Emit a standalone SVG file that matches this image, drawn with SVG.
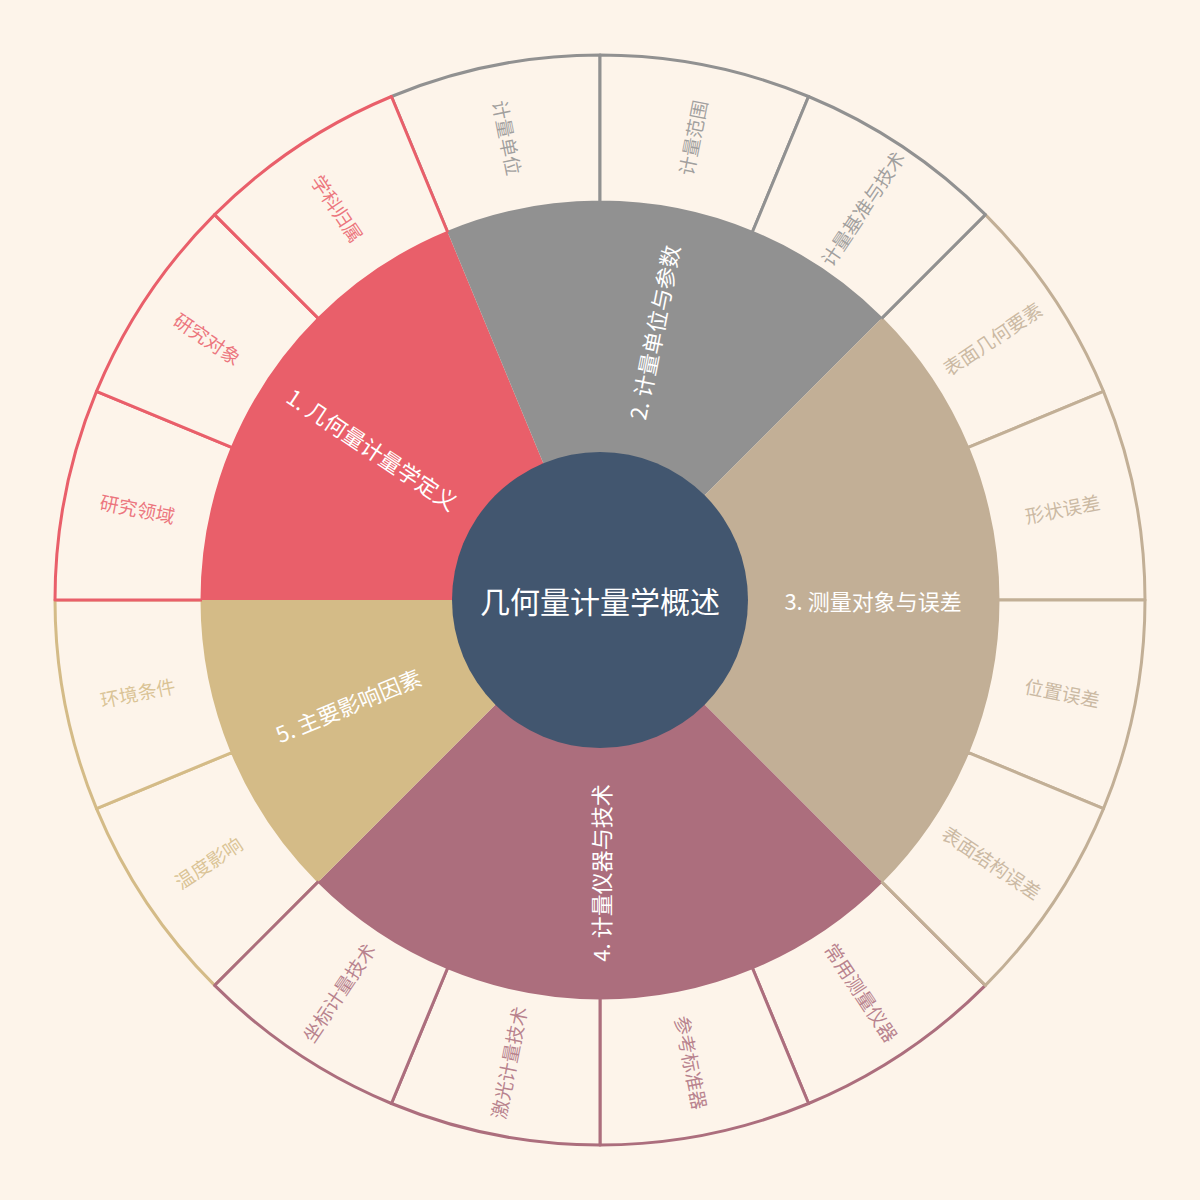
<svg xmlns="http://www.w3.org/2000/svg" width="1200" height="1200" viewBox="0 0 1200 1200">
<style>
text{font-family:"Noto Sans CJK SC","Noto Sans",sans-serif;text-anchor:middle;dominant-baseline:central}
.leaf{fill:#FDF4EA;stroke-width:3;stroke-linejoin:round}
.c1{stroke:#E95F6A}.c2{stroke:#919191}.c3{stroke:#C2AF96}.c4{stroke:#AC6E7D}.c5{stroke:#D4BB87}
.t1{fill:#E95F6A}.t2{fill:#919191}.t3{fill:#C2AF96}.t4{fill:#AC6E7D}.t5{fill:#D4BB87}
.lt{font-size:19px;fill-opacity:0.85}
.mt{font-size:22px;fill:#FFFFFF}
</style>
<rect width="1200" height="1200" fill="#FDF4EA"/>
<g id="leaves">
<g id="cat5-leaves">
<g id="leaf-wendu"><path class="leaf c5" d="M214.63,985.37 A545,545 0 0 1 96.49,808.56 L232.30,752.31 A398,398 0 0 0 318.57,881.43 Z"/><text class="lt t5" transform="translate(207.96,861.95) rotate(-33.75)">温度影响</text></g>
<g id="leaf-huanjing"><path class="leaf c5" d="M96.49,808.56 A545,545 0 0 1 55,600 L202,600 A398,398 0 0 0 232.30,752.31 Z"/><text class="lt t5" transform="translate(137.56,691.98) rotate(-11.25)">环境条件</text></g>
</g>
<g id="cat4-leaves">
<g id="leaf-changyong"><path class="leaf c4" d="M985.37,985.37 A545,545 0 0 1 808.56,1103.51 L752.31,967.70 A398,398 0 0 0 881.43,881.43 Z"/><text class="lt t4" transform="translate(861.95,992.04) rotate(56.25)">常用测量仪器</text></g>
<g id="leaf-cankao"><path class="leaf c4" d="M808.56,1103.51 A545,545 0 0 1 600,1145 L600,998 A398,398 0 0 0 752.31,967.70 Z"/><text class="lt t4" transform="translate(691.98,1062.44) rotate(78.75)">参考标准器</text></g>
<g id="leaf-jiguang"><path class="leaf c4" d="M600,1145 A545,545 0 0 1 391.44,1103.51 L447.69,967.70 A398,398 0 0 0 600,998 Z"/><text class="lt t4" transform="translate(508.02,1062.44) rotate(-78.75)">激光计量技术</text></g>
<g id="leaf-zuobiao"><path class="leaf c4" d="M391.44,1103.51 A545,545 0 0 1 214.63,985.37 L318.57,881.43 A398,398 0 0 0 447.69,967.70 Z"/><text class="lt t4" transform="translate(338.05,992.04) rotate(-56.25)">坐标计量技术</text></g>
</g>
<g id="cat3-leaves">
<g id="leaf-biaomianjihe"><path class="leaf c3" d="M985.37,214.63 A545,545 0 0 1 1103.51,391.44 L967.70,447.69 A398,398 0 0 0 881.43,318.57 Z"/><text class="lt t3" transform="translate(992.04,338.05) rotate(-33.75)">表面几何要素</text></g>
<g id="leaf-xingzhuang"><path class="leaf c3" d="M1103.51,391.44 A545,545 0 0 1 1145,600 L998,600 A398,398 0 0 0 967.70,447.69 Z"/><text class="lt t3" transform="translate(1062.44,508.02) rotate(-11.25)">形状误差</text></g>
<g id="leaf-weizhi"><path class="leaf c3" d="M1145,600 A545,545 0 0 1 1103.51,808.56 L967.70,752.31 A398,398 0 0 0 998,600 Z"/><text class="lt t3" transform="translate(1062.44,691.98) rotate(11.25)">位置误差</text></g>
<g id="leaf-biaomianjiegou"><path class="leaf c3" d="M1103.51,808.56 A545,545 0 0 1 985.37,985.37 L881.43,881.43 A398,398 0 0 0 967.70,752.31 Z"/><text class="lt t3" transform="translate(992.04,861.95) rotate(33.75)">表面结构误差</text></g>
</g>
<g id="cat2-leaves">
<g id="leaf-danwei"><path class="leaf c2" d="M391.44,96.49 A545,545 0 0 1 600,55 L600,202 A398,398 0 0 0 447.69,232.30 Z"/><text class="lt t2" transform="translate(508.02,137.56) rotate(78.75)">计量单位</text></g>
<g id="leaf-fanwei"><path class="leaf c2" d="M600,55 A545,545 0 0 1 808.56,96.49 L752.31,232.30 A398,398 0 0 0 600,202 Z"/><text class="lt t2" transform="translate(691.98,137.56) rotate(-78.75)">计量范围</text></g>
<g id="leaf-jizhun"><path class="leaf c2" d="M808.56,96.49 A545,545 0 0 1 985.37,214.63 L881.43,318.57 A398,398 0 0 0 752.31,232.30 Z"/><text class="lt t2" transform="translate(861.95,207.96) rotate(-56.25)">计量基准与技术</text></g>
</g>
<g id="cat1-leaves">
<g id="leaf-lingyu"><path class="leaf c1" d="M55,600 A545,545 0 0 1 96.49,391.44 L232.30,447.69 A398,398 0 0 0 202,600 Z"/><text class="lt t1" transform="translate(137.56,508.02) rotate(11.25)">研究领域</text></g>
<g id="leaf-duixiang"><path class="leaf c1" d="M96.49,391.44 A545,545 0 0 1 214.63,214.63 L318.57,318.57 A398,398 0 0 0 232.30,447.69 Z"/><text class="lt t1" transform="translate(207.96,338.05) rotate(33.75)">研究对象</text></g>
<g id="leaf-guishu"><path class="leaf c1" d="M214.63,214.63 A545,545 0 0 1 391.44,96.49 L447.69,232.30 A398,398 0 0 0 318.57,318.57 Z"/><text class="lt t1" transform="translate(338.05,207.96) rotate(56.25)">学科归属</text></g>
</g>
</g>
<g id="categories">
<g id="cat1"><path fill="#E95F6A" d="M600,600 L202,600 A398,398 0 0 1 447.69,232.30 Z"/></g>
<g id="cat2"><path fill="#919191" d="M600,600 L447.69,232.30 A398,398 0 0 1 881.43,318.57 Z"/></g>
<g id="cat3"><path fill="#C2AF96" d="M600,600 L881.43,318.57 A398,398 0 0 1 881.43,881.43 Z"/></g>
<g id="cat4"><path fill="#AC6E7D" d="M600,600 L881.43,881.43 A398,398 0 0 1 318.57,881.43 Z"/></g>
<g id="cat5"><path fill="#D4BB87" d="M600,600 L318.57,881.43 A398,398 0 0 1 202,600 Z"/></g>
</g>
<g id="center"><circle cx="600" cy="600" r="148" fill="#42566F"/><text x="600" y="600" font-size="30" fill="#FFFFFF">几何量计量学概述</text></g>
<g id="category-labels">
<text class="mt" transform="translate(373.01,448.33) rotate(33.75)">1. 几何量计量学定义</text>
<text class="mt" transform="translate(653.26,332.24) rotate(-78.75)">2. 计量单位与参数</text>
<text class="mt" transform="translate(873,600)">3. 测量对象与误差</text>
<text class="mt" transform="translate(600,873) rotate(-90)">4. 计量仪器与技术</text>
<text class="mt" transform="translate(347.78,704.47) rotate(-22.5)">5. 主要影响因素</text>
</g>
</svg>
